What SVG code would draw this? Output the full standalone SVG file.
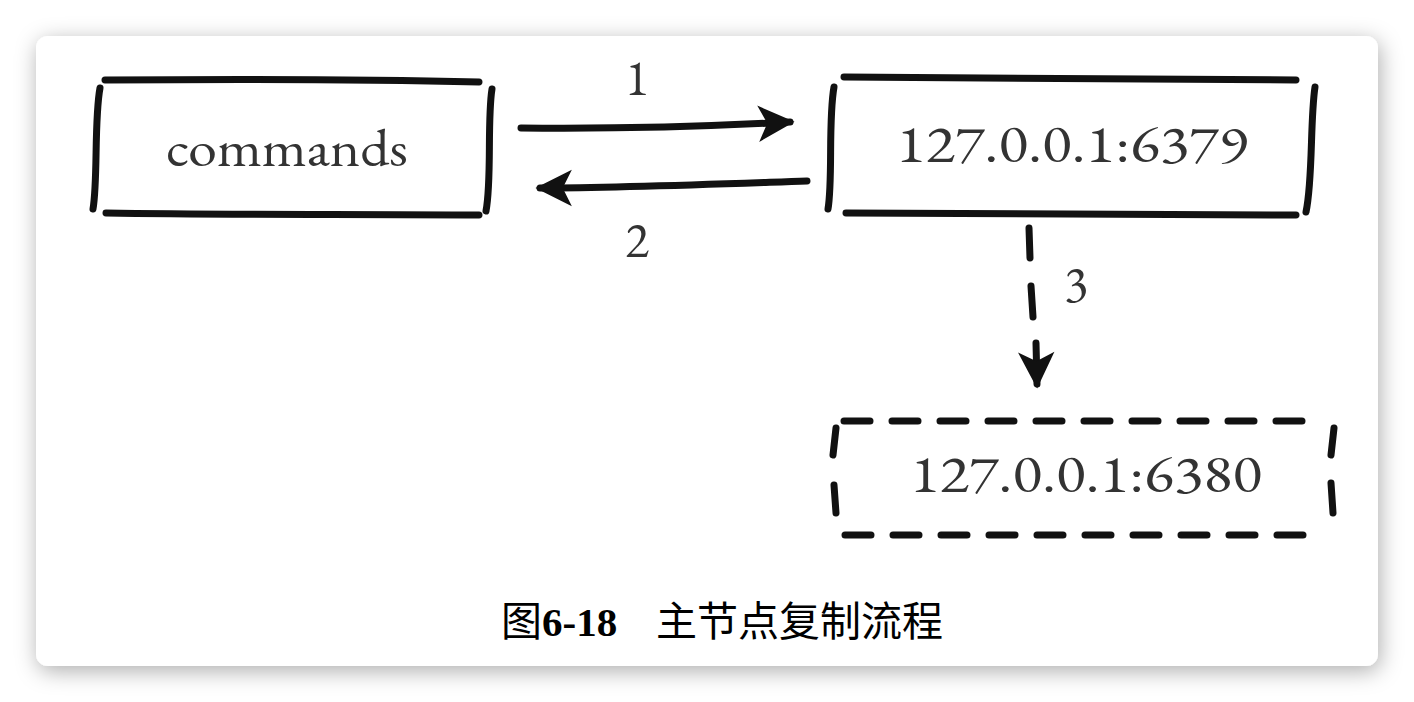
<svg xmlns="http://www.w3.org/2000/svg" width="1414" height="702" viewBox="0 0 1414 702">
  <style>
    .ink { fill: none; stroke: #111; stroke-width: 7; stroke-linecap: round; stroke-linejoin: round; }
    .dash { stroke-dasharray: 26 22; }
    .label { font-family: "EB Garamond", "Liberation Serif", serif; fill: #333; }
    .node-text { font-size: 54px; }
    .num { font-size: 50px; }
    .caption { font-family: "Liberation Serif", "Noto Sans CJK SC", serif; fill: #000; font-size: 41px; }
  </style>
  <defs>
    <filter id="cardShadow" x="-10%" y="-10%" width="120%" height="125%">
      <feDropShadow dx="2" dy="5" stdDeviation="11" flood-color="#000" flood-opacity="0.32"/>
    </filter>
    <marker id="head" viewBox="0 0 20 20" refX="16" refY="10" markerWidth="6.5" markerHeight="6.5" markerUnits="strokeWidth" orient="auto">
      <path d="M2 2 L18 10 L2 18 L6 10 Z" fill="#111"/>
    </marker>
  </defs>

  <!-- page background and card -->
  <rect width="1414" height="702" fill="#fff"/>
  <rect x="36" y="36" width="1342" height="630" rx="12" fill="#fff" filter="url(#cardShadow)"/>

  <!-- connectors -->
  <g id="connectors">
    <path class="ink" d="M521 128 C620 129 700 127 790 122" marker-end="url(#head)"/>
    <path class="ink" d="M807 181 C720 184 620 188 540 188" marker-end="url(#head)"/>
    <path class="ink" d="M1029 228 L1030 258 M1031 286 L1033 317" />
    <path class="ink" d="M1036 343 L1037 384" marker-end="url(#head)"/>
    <text class="label num" x="625" y="95">1</text>
    <text class="label num" x="625" y="257">2</text>
    <text class="label num" x="1064" y="301">3</text>
  </g>

  <!-- client node -->
  <g id="node-commands">
    <path class="ink" d="M105 80 C230 79 360 79 479 82"/>
    <path class="ink" d="M106 213 C230 215 360 214 479 215"/>
    <path class="ink" d="M100 88 C94 120 98 180 93 209"/>
    <path class="ink" d="M492 89 C487 120 492 180 486 211"/>
    <text class="label node-text" x="287" y="166" text-anchor="middle" textLength="242" lengthAdjust="spacingAndGlyphs">commands</text>
  </g>

  <!-- master node -->
  <g id="node-master">
    <path class="ink" d="M844 77 C1000 78 1150 78 1296 80"/>
    <path class="ink" d="M846 213 C1000 213 1150 214 1296 215"/>
    <path class="ink" d="M834 87 C828 120 833 180 828 209"/>
    <path class="ink" d="M1315 87 C1310 120 1313 180 1306 212"/>
    <text class="label node-text" x="1072" y="162" text-anchor="middle" textLength="352" lengthAdjust="spacingAndGlyphs">127.0.0.1:6379</text>
  </g>

  <!-- replica node -->
  <g id="node-replica">
    <path class="ink dash" d="M844 421 L1316 421"/>
    <path class="ink dash" d="M845 535 L1312 535"/>
    <path class="ink" d="M836 428 L833 455 M834 485 L836 513"/>
    <path class="ink" d="M1334 428 L1331 455 M1331 483 L1333 513"/>
    <text class="label node-text" x="1086" y="492" text-anchor="middle" textLength="352" lengthAdjust="spacingAndGlyphs">127.0.0.1:6380</text>
  </g>

  <!-- figure caption -->
  <text class="caption" x="501" y="636">图<tspan font-weight="bold">6-18</tspan><tspan x="656">主节点复制流程</tspan></text>
</svg>
